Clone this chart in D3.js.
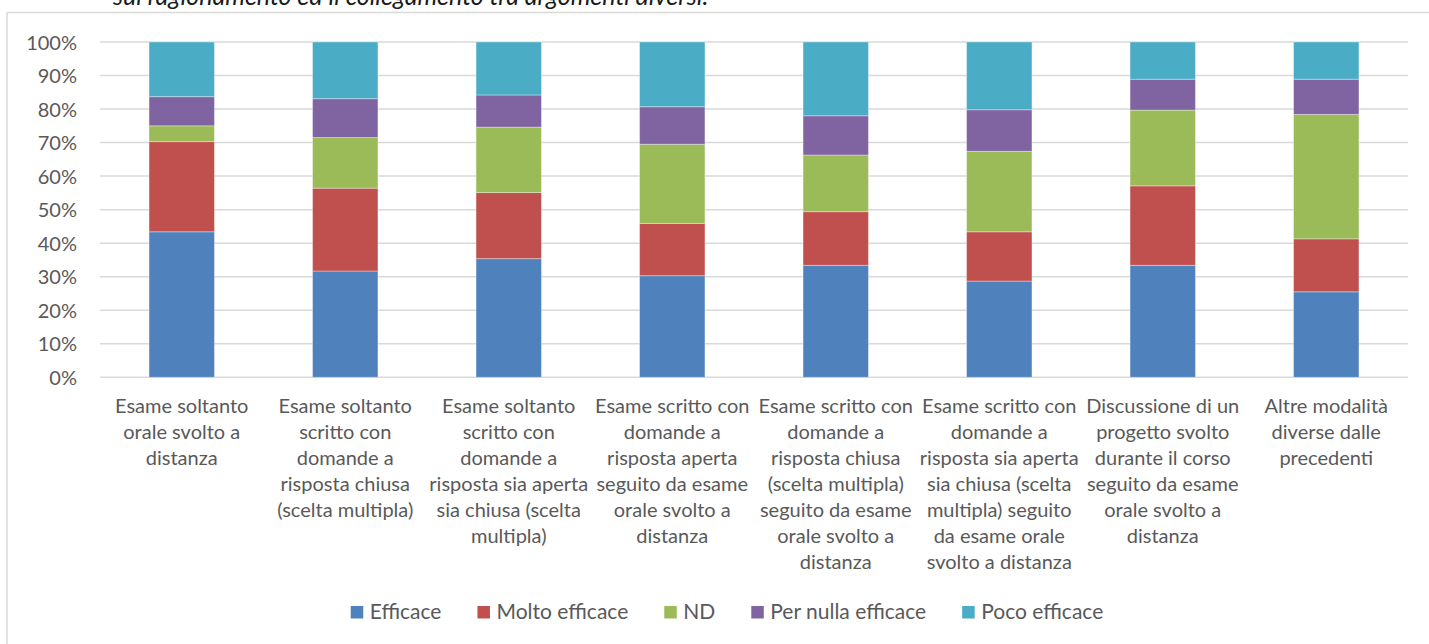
<!DOCTYPE html>
<html><head><meta charset="utf-8">
<script src="https://cdn.jsdelivr.net/npm/d3@7"></script>
<style>
html,body{margin:0;padding:0;background:#fff;}
svg{display:block;}
text{font-family:Lato, "Open Sans", sans-serif;fill:#595959;}
</style></head>
<body><svg id="chart" width="1429" height="644"></svg>
<script>
const categories = [
  "Esame soltanto\norale svolto a\ndistanza",
  "Esame soltanto\nscritto con\ndomande a\nrisposta chiusa\n(scelta multipla)",
  "Esame soltanto\nscritto con\ndomande a\nrisposta sia aperta\nsia chiusa (scelta\nmultipla)",
  "Esame scritto con\ndomande a\nrisposta aperta\nseguito da esame\norale svolto a\ndistanza",
  "Esame scritto con\ndomande a\nrisposta chiusa\n(scelta multipla)\nseguito da esame\norale svolto a\ndistanza",
  "Esame scritto con\ndomande a\nrisposta sia aperta\nsia chiusa (scelta\nmultipla) seguito\nda esame orale\nsvolto a distanza",
  "Discussione di un\nprogetto svolto\ndurante il corso\nseguito da esame\norale svolto a\ndistanza",
  "Altre modalità\ndiverse dalle\nprecedenti"
];
const seriesNames = ["Efficace", "Molto efficace", "ND", "Per nulla efficace", "Poco efficace"];
const efficace      = [43.4, 31.7, 35.4, 30.3, 33.4, 28.7, 33.4, 25.5];
const moltoEfficace = [26.9, 24.7, 19.7, 15.6, 16.0, 14.7, 23.7, 15.8];
const nd            = [4.7, 15.1, 19.5, 23.6, 16.9, 24.0, 22.6, 37.1];
const perNulla      = [8.7, 11.6, 9.6, 11.2, 11.7, 12.4, 9.2, 10.5];
const pocoEfficace  = [16.3, 16.9, 15.8, 19.3, 22.0, 20.2, 11.1, 11.1];
const yTicks = [0, 10, 20, 30, 40, 50, 60, 70, 80, 90, 100];
const titleText = "sul ragionamento ed il collegamento tra argomenti diversi.";
const colors = ["#4F81BD", "#C0504D", "#9BBB59", "#8064A2", "#4BACC6"];

const seriesValues = [efficace, moltoEfficace, nd, perNulla, pocoEfficace];
const table = categories.map((c, i) => {
  const row = {cat: c};
  seriesNames.forEach((s, j) => row[s] = seriesValues[j][i]);
  return row;
});

const svg = d3.select("#chart");
const FS = 20;

// chart border (partially visible)
svg.append("line").attr("x1", 7).attr("x2", 1429).attr("y1", 12.5).attr("y2", 12.5)
  .attr("stroke", "#d9d9d9").attr("stroke-width", 1.5);
svg.append("line").attr("x1", 7).attr("x2", 7).attr("y1", 12.5).attr("y2", 644)
  .attr("stroke", "#d9d9d9").attr("stroke-width", 1.5);

// clipped title (partially outside the view, as in the reference)
svg.append("text").attr("x", 113).attr("y", 5).attr("font-size", 25)
  .attr("font-style", "italic").style("fill", "#1a1a1a").text(titleText);

const x = d3.scaleBand().domain(categories).range([100, 1408]).paddingInner(0.6).paddingOuter(0.3);
const y = d3.scaleLinear().domain([0, 100]).range([377.3, 42]);

// gridlines
svg.append("g").selectAll("line").data(yTicks).join("line")
  .attr("x1", 100).attr("x2", 1408)
  .attr("y1", d => y(d)).attr("y2", d => y(d))
  .attr("stroke", "#d9d9d9").attr("stroke-width", 1.5);

// y axis labels
const yAxis = d3.axisLeft(y).tickValues(yTicks).tickFormat(d => d + "%").tickSize(0).tickPadding(0);
const yg = svg.append("g").attr("transform", "translate(77,0)").call(yAxis);
yg.select(".domain").remove();
yg.selectAll("text").attr("font-size", FS).attr("font-family", "Lato").style("fill", "#595959").attr("dy", "0.35em");

// stacked bars
const stack = d3.stack().keys(seriesNames)(table);
svg.append("g").selectAll("g").data(stack).join("g")
  .attr("fill", (d, i) => colors[i])
  .selectAll("rect").data(d => d).join("rect")
  .attr("x", d => x(d.data.cat))
  .attr("width", x.bandwidth())
  .attr("y", d => y(d[1]))
  .attr("height", d => y(d[0]) - y(d[1]))
  .attr("stroke", "#ffffff").attr("stroke-opacity", 0.35).attr("stroke-width", 1);

// x labels
const xg = svg.append("g");
categories.forEach(c => {
  const t = xg.append("text").attr("text-anchor", "middle").attr("font-size", FS)
    .attr("x", x(c) + x.bandwidth() / 2).attr("y", 413);
  c.split("\n").forEach((ln, k) => {
    t.append("tspan").attr("x", x(c) + x.bandwidth() / 2).attr("dy", k === 0 ? 0 : 26).text(ln);
  });
});

// legend
const lg = svg.append("g");
const items = seriesNames.map((s, i) => {
  const g = lg.append("g");
  g.append("rect").attr("width", 12.5).attr("height", 12.5).attr("y", 606).attr("fill", colors[i]);
  const t = g.append("text").attr("x", 19).attr("y", 619).attr("font-size", 21).text(s);
  return {g, w: 19 + t.node().getComputedTextLength()};
});
const gap = 36;
const total = d3.sum(items, d => d.w) + gap * (items.length - 1);
let cx = 727 - total / 2;
items.forEach(it => { it.g.attr("transform", `translate(${cx},0)`); cx += it.w + gap; });
</script>
</body></html>
